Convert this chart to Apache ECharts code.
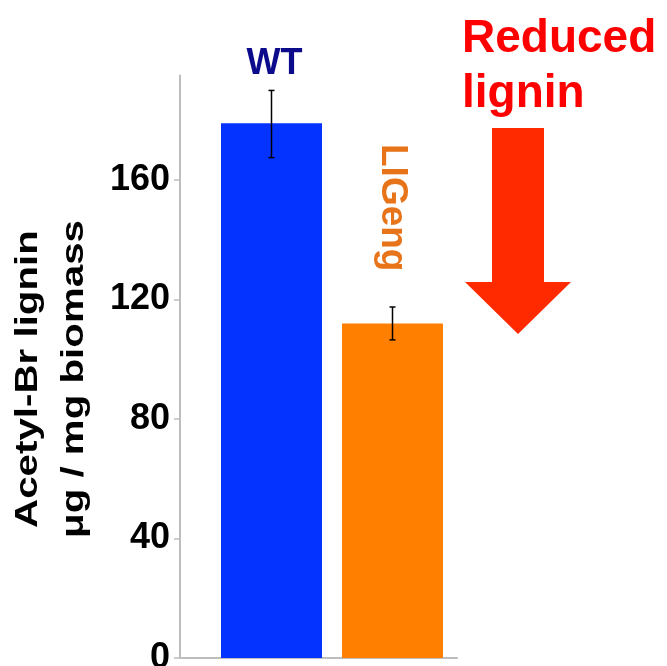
<!DOCTYPE html>
<html>
<head>
<meta charset="utf-8">
<script src="https://cdn.jsdelivr.net/npm/echarts@6/dist/echarts.min.js"></script>
<style>
  html, body { margin: 0; padding: 0; background: #fff; }
  #chart { width: 667px; height: 666px; }
</style>
</head>
<body>
<div id="chart"></div>
<script>
// ---- data ----
const categories = ['WT', 'LIGeng'];
const meanValues = [179, 112];
const errorLow = [167.5, 106.5];
const errorHigh = [190, 117.5];
const yTicks = [0, 40, 80, 120, 160];
const yMax = 195;
const yAxisTitle = 'Acetyl-Br lignin\nμg / mg biomass';
const annotationText = 'Reduced\nlignin';

// ---- styles ----
const FONT = '"Liberation Sans", Arial, Helvetica, sans-serif';
const barColors = ['#0433ff', '#ff7f00'];
const axisGray = '#bdbdbd';
const labelStyles = [
  { show: true, position: 'top', distance: 41, offset: [3, 0], formatter: '{b}',
    color: '#0b0b8c', fontSize: 36, fontWeight: 'bold', fontFamily: FONT },
  { show: true, position: 'top', distance: 47, rotate: -90, align: 'right', verticalAlign: 'middle',
    offset: [-5, 0], formatter: '{b}',
    color: '#e8741a', fontSize: 37, fontWeight: 'bold', fontFamily: FONT }
];

const chart = echarts.init(document.getElementById('chart'), null, { renderer: 'canvas' });

const option = {
  animation: false,
  backgroundColor: '#ffffff',
  grid: [
    { left: 211, right: 214, top: 75.5, bottom: 8, outerBoundsMode: 'none', containLabel: false },
    { left: 180, right: 210, top: 75.5, bottom: 8, outerBoundsMode: 'none', containLabel: false }
  ],
  xAxis: [
    { type: 'category', gridIndex: 0, data: categories, show: false },
    { type: 'category', gridIndex: 1, data: [''],
      axisLine: { show: true, lineStyle: { color: axisGray, width: 2 } },
      axisTick: { show: false }, axisLabel: { show: false } }
  ],
  yAxis: [
    { type: 'value', gridIndex: 0, min: 0, max: yMax, show: false, splitLine: { show: false } },
    { type: 'value', gridIndex: 1, min: 0, max: yMax,
      axisLine: { show: true, lineStyle: { color: axisGray, width: 2 } },
      axisTick: { show: true, length: 6, customValues: yTicks, lineStyle: { color: axisGray, width: 1.5 } },
      axisLabel: { customValues: yTicks, margin: 10, fontSize: 36, fontWeight: 'bold', color: '#000', fontFamily: FONT },
      splitLine: { show: false } }
  ],
  series: [
    {
      type: 'bar', xAxisIndex: 0, yAxisIndex: 0, barWidth: 101,
      data: meanValues.map((v, i) => ({ value: v, itemStyle: { color: barColors[i] }, label: labelStyles[i] })),
      z: 2
    },
    {
      type: 'custom', xAxisIndex: 0, yAxisIndex: 0, z: 5,
      data: categories.map((c, i) => [i, errorLow[i], errorHigh[i]]),
      encode: { x: 0, y: [1, 2] },
      renderItem: function (params, api) {
        const x = api.value(0);
        const lo = api.coord([x, api.value(1)]);
        const hi = api.coord([x, api.value(2)]);
        const cap = 3;
        const st = { stroke: '#000', lineWidth: 1.5 };
        return {
          type: 'group',
          children: [
            { type: 'line', shape: { x1: lo[0], y1: lo[1], x2: hi[0], y2: hi[1] }, style: st },
            { type: 'line', shape: { x1: hi[0] - cap, y1: hi[1], x2: hi[0] + cap, y2: hi[1] }, style: st },
            { type: 'line', shape: { x1: lo[0] - cap, y1: lo[1], x2: lo[0] + cap, y2: lo[1] }, style: st }
          ]
        };
      }
    }
  ],
  graphic: [
    { type: 'text', x: 51, y: 379, rotation: Math.PI / 2, scaleX: 1.3, scaleY: 1,
      style: { text: yAxisTitle, font: 'bold 31px ' + FONT, fill: '#000', lineHeight: 46,
               align: 'center', verticalAlign: 'middle' } },
    { type: 'text', left: 462, top: 12,
      style: { text: annotationText, font: 'bold 46px ' + FONT, fill: '#fe0000', lineHeight: 55 } },
    { type: 'polygon',
      shape: { points: [[492, 128], [544, 128], [544, 282], [571, 282], [518, 334], [465, 282], [492, 282]] },
      style: { fill: '#ff2a00' } }
  ]
};

chart.setOption(option);
</script>
</body>
</html>
